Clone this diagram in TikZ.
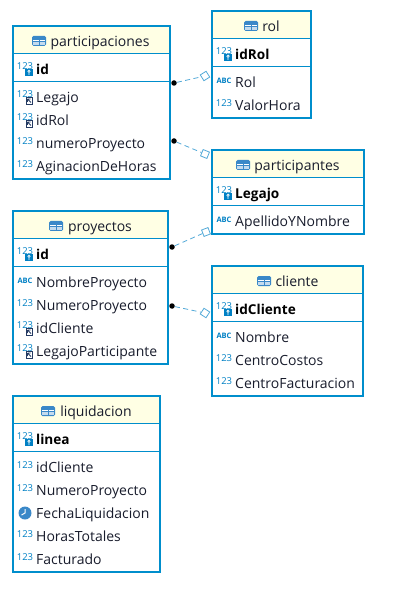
\documentclass[tikz,border=0pt]{standalone}
\usepackage{fontspec}
\setmainfont{Open Sans}
\usetikzlibrary{shapes.geometric, positioning}
\definecolor{tblblue}{RGB}{0, 142, 204}
\definecolor{hdryellow}{RGB}{255, 255, 228}
\definecolor{iconblue}{RGB}{0, 128, 196}
\definecolor{fknavy}{RGB}{36, 58, 98}
\definecolor{clockblue}{RGB}{58, 136, 200}
\definecolor{linkblue}{RGB}{84, 170, 216}
\definecolor{txtdark}{RGB}{24, 28, 44}
\tikzset{
  tbl/.style      = {rectangle, draw=tblblue, line width=2pt, fill=white, anchor=north west, inner sep=0pt, outer sep=0pt},
  hdr/.style      = {rectangle, fill=hdryellow, anchor=north west, inner sep=0pt, outer sep=0pt},
  ttlname/.style  = {font=\fontsize{14}{16}\selectfont, text=txtdark, inner sep=0pt, text height=11pt, text depth=0pt},
  colname/.style  = {font=\fontsize{14}{16}\selectfont, text=txtdark, anchor=west, inner sep=0pt, text height=11pt, text depth=0pt},
  colkey/.style   = {colname, font=\fontsize{13.6}{16}\selectfont\bfseries, text=black},
  sep/.style      = {tblblue, line width=0.8pt},
  numtxt/.style   = {font=\fontsize{9.5}{10}\selectfont, text=iconblue, inner sep=0pt},
  abctxt/.style   = {font=\fontsize{7.5}{8}\selectfont\bfseries, text=iconblue, inner sep=0pt},
  link/.style     = {linkblue, line width=0.8pt, dash pattern=on 5pt off 3.5pt},
  linkdot/.style  = {circle, fill=black, inner sep=0pt, minimum size=5.5pt},
  linkdia/.style  = {diamond, draw=linkblue, fill=white, line width=0.8pt, inner sep=0pt, minimum size=10pt},
  tblicon/.pic = {
    \fill[clockblue, rounded corners=1.5pt] (-7,-5) rectangle (7,5);
    \fill[white] (-5.6,-1) rectangle (-0.5,0.2);
    \fill[white] (0.5,-1) rectangle (5.6,0.2);
    \fill[white!70!clockblue] (-5.6,1) rectangle (-0.5,3.8);
    \fill[white!70!clockblue] (0.5,1) rectangle (5.6,3.8);
  },
  icnum/.pic = {
    \node[numtxt] (-n) at (-11,-2) {123};
  },
  icabc/.pic = {
    \node[abctxt] (-n) at (-11,-1) {ABC};
  },
  ickey/.pic = {
    \node[numtxt] (-n) at (-11,-3) {123};
    \fill[iconblue] (-11,0) rectangle (-3,7);
    \draw[white, line width=0.7pt] (-7,2.2) circle (1.2) (-7,3.4) -- (-7,6);
  },
  icfk/.pic = {
    \node[numtxt] (-n) at (-11,-3) {123};
    \draw[fknavy, fill=white, line width=0.8pt] (-10,0.5) rectangle (-3.5,7);
    \draw[fknavy, line width=0.9pt] (-8.5,2) -- (-5,5.5) (-8.5,2) -- (-5.5,2) (-8.5,2) -- (-8.5,5);
  },
  icclock/.pic = {
    \fill[clockblue] (-11,0) circle (6.5);
    \draw[white, line width=1pt] (-11,-4) -- (-11,0) -- (-14.5,2);
  },
}

\begin{document}
\begin{tikzpicture}[x=1pt, y=-1pt]
\useasboundingbox (0,0) rectangle (419,593);

% ===================== participaciones =====================
\node[hdr, minimum width=157pt, minimum height=27pt] (pcH) at (13,26) {};
\node[tbl, fill=none, minimum width=157pt, minimum height=153pt] (pc) at (13,26) {};
\node[ttlname] (pcT) at (100,41) {participaciones};
\pic at (39,41) {tblicon};
\draw[sep] (13,53) -- (170,53);
\draw[sep] (13,81) -- (170,81);
\node[colkey] (pcK) at (36,69) {id};
\pic (pcKi) at (36,69) {ickey};
\foreach \yy/\kd/\txt [count=\i] in {97/icfk/Legajo, 120/icfk/idRol, 143/icnum/numeroProyecto, 166/icnum/AginacionDeHoras}{
    \node[colname] (pc\i) at (36,\yy) {\txt};
    \pic (pc\i i) at (36,\yy) {\kd};
}

% ===================== rol =====================
\node[hdr, minimum width=99pt, minimum height=27pt] (rlH) at (212,11) {};
\node[tbl, fill=none, minimum width=99pt, minimum height=107pt] (rl) at (212,11) {};
\node[ttlname] (rlT) at (271,26) {rol};
\pic at (251,26) {tblicon};
\draw[sep] (212,38) -- (311,38);
\draw[sep] (212,66) -- (311,66);
\node[colkey] (rlK) at (235,54) {idRol};
\pic (rlKi) at (235,54) {ickey};
\foreach \yy/\kd/\txt [count=\i] in {82/icabc/Rol, 105/icnum/ValorHora}{
    \node[colname] (rl\i) at (235,\yy) {\txt};
    \pic (rl\i i) at (235,\yy) {\kd};
}

% ===================== participantes =====================
\node[hdr, minimum width=152pt, minimum height=27pt] (ptH) at (212,150) {};
\node[tbl, fill=none, minimum width=152pt, minimum height=84pt] (pt) at (212,150) {};
\node[ttlname] (ptT) at (297,165) {participantes};
\pic at (243,165) {tblicon};
\draw[sep] (212,177) -- (364,177);
\draw[sep] (212,205) -- (364,205);
\node[colkey] (ptK) at (235,193) {Legajo};
\pic (ptKi) at (235,193) {ickey};
\node[colname] (pt1) at (235,221) {ApellidoYNombre};
\pic (pt1i) at (235,221) {icabc};

% ===================== proyectos =====================
\node[hdr, minimum width=155pt, minimum height=27pt] (pyH) at (13,211) {};
\node[tbl, fill=none, minimum width=155pt, minimum height=153pt] (py) at (13,211) {};
\node[ttlname] (pyT) at (100,226) {proyectos};
\pic at (56,226) {tblicon};
\draw[sep] (13,238) -- (168,238);
\draw[sep] (13,266) -- (168,266);
\node[colkey] (pyK) at (36,254) {id};
\pic (pyKi) at (36,254) {ickey};
\foreach \yy/\kd/\txt [count=\i] in {282/icabc/NombreProyecto, 305/icnum/NumeroProyecto, 328/icfk/idCliente, 351/icfk/LegajoParticipante}{
    \node[colname] (py\i) at (36,\yy) {\txt};
    \pic (py\i i) at (36,\yy) {\kd};
}

% ===================== cliente =====================
\node[hdr, minimum width=151pt, minimum height=27pt] (clH) at (212,266) {};
\node[tbl, fill=none, minimum width=151pt, minimum height=130pt] (cl) at (212,266) {};
\node[ttlname] (clT) at (297,281) {cliente};
\pic at (264,281) {tblicon};
\draw[sep] (212,293) -- (363,293);
\draw[sep] (212,321) -- (363,321);
\node[colkey] (clK) at (235,309) {idCliente};
\pic (clKi) at (235,309) {ickey};
\foreach \yy/\kd/\txt [count=\i] in {337/icabc/Nombre, 360/icnum/CentroCostos, 383/icnum/CentroFacturacion}{
    \node[colname] (cl\i) at (235,\yy) {\txt};
    \pic (cl\i i) at (235,\yy) {\kd};
}

% ===================== liquidacion =====================
\node[hdr, minimum width=147pt, minimum height=27pt] (lqH) at (13,396) {};
\node[tbl, fill=none, minimum width=147pt, minimum height=176pt] (lq) at (13,396) {};
\node[ttlname] (lqT) at (96,411) {liquidacion};
\pic at (48,411) {tblicon};
\draw[sep] (13,423) -- (160,423);
\draw[sep] (13,451) -- (160,451);
\node[colkey] (lqK) at (36,439) {linea};
\pic (lqKi) at (36,439) {ickey};
\foreach \yy/\kd/\txt [count=\i] in {467/icnum/idCliente, 490/icnum/NumeroProyecto, 513/icclock/FechaLiquidacion, 536/icnum/HorasTotales, 559/icnum/Facturado}{
    \node[colname] (lq\i) at (36,\yy) {\txt};
    \pic (lq\i i) at (36,\yy) {\kd};
}

% ===================== relaciones =====================
\node[linkdot] (d1) at (174,83) {};
\node[linkdot] (d2) at (174,141) {};
\node[linkdot] (d3) at (172,247) {};
\node[linkdot] (d4) at (172,306) {};
\node[linkdia, rotate=-13] (e1) at (205,76) {};
\node[linkdia, rotate=23] (e2) at (205,154) {};
\node[linkdia, rotate=-24] (e3) at (206,232) {};
\node[linkdia, rotate=12] (e4) at (205,313) {};
\draw[link] (d1) -- (e1);
\draw[link] (d2) -- (e2);
\draw[link] (d3) -- (e3);
\draw[link] (d4) -- (e4);

\end{tikzpicture}
\end{document}
